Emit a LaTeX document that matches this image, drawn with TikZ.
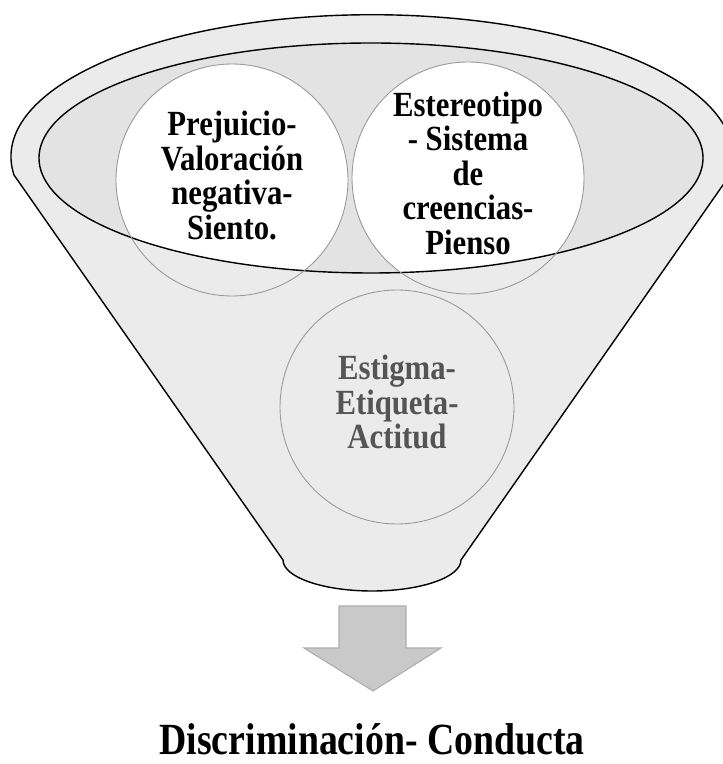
\documentclass[tikz,border=0pt]{standalone}
\usepackage{fontspec}
\setmainfont{Liberation Serif}
% text stretched upwards, as in the figure
\newcommand{\tallstack}[1]{\scalebox{1}[1.15]{\begin{tabular}{@{}c@{}}#1\end{tabular}}}
\begin{document}
\begin{tikzpicture}[
        x=0.02cm, y=0.02cm,
        funnel/.style = {draw, line width=0.8pt, fill=black!8},% body of the funnel
        rim/.style = {draw, line width=0.8pt},% inner ellipse of the mouth
        C/.style = {circle, draw=black!40, line width=0.5pt,
                minimum size=4.64cm, inner sep=0pt,
                font=\fontsize{17.5}{16.4}\selectfont\bfseries,
                text=#1}, % text colour of the circle
        C/.default = black,
        arr/.style = {fill=black!21, draw=black!32, line width=0.6pt},
    ]
    \useasboundingbox (0,0) rectangle (723,764);
    \clip (0,0) rectangle (723,764);
    % centres of the three circles
    \coordinate (p) at (232,584);
    \coordinate (e) at (468,586);
    \coordinate (s) at (397,357);
    % funnel
    \draw[funnel] (14,589) arc[start angle=187.4, end angle=-7.4, x radius=361, y radius=142]
        -- (461,204) arc[start angle=0, end angle=-180, x radius=89, y radius=31] -- cycle;
    \fill[black!11] (371,606) ellipse[x radius=332, y radius=115];
    \begin{scope}
        \clip (371,606) ellipse[x radius=332, y radius=115];
        \fill[white] (p) circle[radius=116] (e) circle[radius=116];
    \end{scope}
    \draw[rim] (371,606) ellipse[x radius=332, y radius=115];
    % circles
    \node[C] (pre) at (p) {\tallstack{Prejuicio-\\Valoración\\negativa-\\Siento.}};
    \node[C] (est) at (e) {\tallstack{Estereotipo\\- Sistema\\de\\creencias-\\Pienso}};
    \node[C=black!67, minimum size=4.68cm] (stg) at (s) {\tallstack{Estigma-\\Etiqueta-\\Actitud}};
    % arrow
    \draw[arr] (339,158) -- (406,158) -- (406,116) -- (441,116) -- (373,73)
        -- (304,116) -- (339,116) -- cycle;
    \node[anchor=base, inner sep=0pt, font=\fontsize{21.5}{24}\selectfont\bfseries] (dis) at (372,10)
        {\scalebox{1}[1.18]{Discriminación- Conducta}};
\end{tikzpicture}
\end{document}
